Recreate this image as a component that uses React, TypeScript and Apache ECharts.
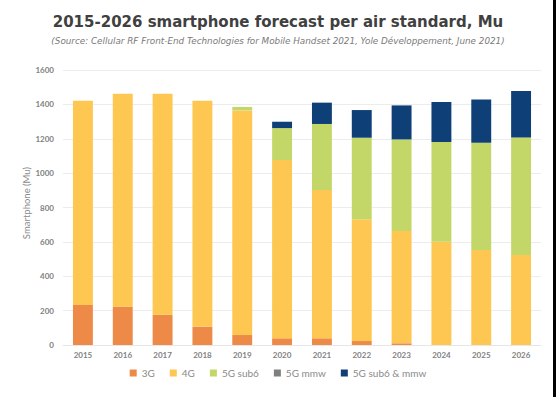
import React, { useEffect, useRef } from "react";
import * as echarts from "echarts";

const years = ["2015", "2016", "2017", "2018", "2019", "2020", "2021", "2022", "2023", "2024", "2025", "2026"];
const g3 = [233, 223, 176, 107, 58, 39, 39, 23, 10, 0, 0, 0];
const g4 = [1188, 1239, 1286, 1314, 1307, 1037, 863, 708, 653, 601, 553, 524];
const sub6 = [0, 0, 0, 0, 20, 186, 384, 475, 533, 580, 624, 684];
const mmw = [0, 0, 0, 0, 0, 0, 0, 0, 0, 0, 0, 0];
const sub6mmw = [0, 0, 0, 0, 0, 37, 124, 161, 198, 233, 252, 270];
const yTicks = [0, 200, 400, 600, 800, 1000, 1200, 1400, 1600];
const yAxisTitle = "Smartphone (Mu)";

const seriesDefs = [
  { name: "3G", data: g3, color: "#EE8A47" },
  { name: "4G", data: g4, color: "#FDC751" },
  { name: "5G sub6", data: sub6, color: "#C3D769" },
  { name: "5G mmw", data: mmw, color: "#7F7F7F" },
  { name: "5G sub6 & mmw", data: sub6mmw, color: "#0F3F77" },
];

export default function App() {
  const ref = useRef<HTMLDivElement>(null);
  useEffect(() => {
    const chart = echarts.init(ref.current!, null, { renderer: "svg" });
    const axisFont = "Lato, 'Noto Sans', sans-serif";
    chart.setOption({
      animation: false,
      backgroundColor: "#ffffff",
      title: [
        {
          text: "2015-2026 smartphone forecast per air standard, Mu",
          left: "center",
          top: 9,
          textStyle: { fontFamily: "'DejaVu Sans', sans-serif", fontWeight: "bold", fontSize: 15, color: "#404040" },
        },
        {
          text: "(Source: Cellular RF Front-End Technologies for Mobile Handset 2021, Yole Développement, June 2021)",
          left: "center",
          top: 31,
          textStyle: { fontFamily: "'DejaVu Sans', sans-serif", fontStyle: "italic", fontWeight: "normal", fontSize: 8.8, color: "#7a7a7a" },
        },
      ],
      legend: {
        bottom: 14,
        left: "center",
        itemWidth: 7,
        itemHeight: 7,
        itemGap: 15,
        icon: "rect",
        textStyle: { fontFamily: axisFont, fontSize: 10, color: "#8a8a8a" },
        data: seriesDefs.map((s) => s.name),
      },
      grid: { left: 63, right: 15, top: 70, bottom: 52 },
      xAxis: {
        type: "category",
        data: years,
        axisLine: { lineStyle: { color: "#e6e6e6" } },
        axisTick: { show: false },
        axisLabel: { fontFamily: axisFont, fontWeight: "bold", fontSize: 8, color: "#7f7f7f", margin: 6 },
      },
      yAxis: {
        type: "value",
        min: 0,
        max: 1600,
        interval: 200,
        axisLine: { show: false },
        axisTick: { show: false },
        splitLine: { lineStyle: { color: "#ececec" } },
        axisLabel: {
          fontFamily: axisFont,
          fontWeight: "bold",
          fontSize: 8,
          color: "#7f7f7f",
          margin: 9,
          formatter: (v: number) => (yTicks.includes(v) ? String(v) : ""),
        },
      },
      series: seriesDefs.map((s) => ({
        name: s.name,
        type: "bar",
        stack: "total",
        barWidth: "50%",
        data: s.data,
        itemStyle: { color: s.color },
      })),
      graphic: [
        {
          type: "text",
          x: 26,
          y: 203,
          rotation: Math.PI / 2,
          style: {
            text: yAxisTitle,
            fontFamily: axisFont,
            fontSize: 9.5,
            fill: "#8a8a8a",
            align: "center",
            verticalAlign: "middle",
          },
        },
        { type: "rect", shape: { x: 553, y: 0, width: 3, height: 397 }, style: { fill: "#000000" } },
      ],
    });
    return () => chart.dispose();
  }, []);
  return <div ref={ref} style={{ position: "fixed", left: 0, top: 0, width: 556, height: 397 }} />;
}
